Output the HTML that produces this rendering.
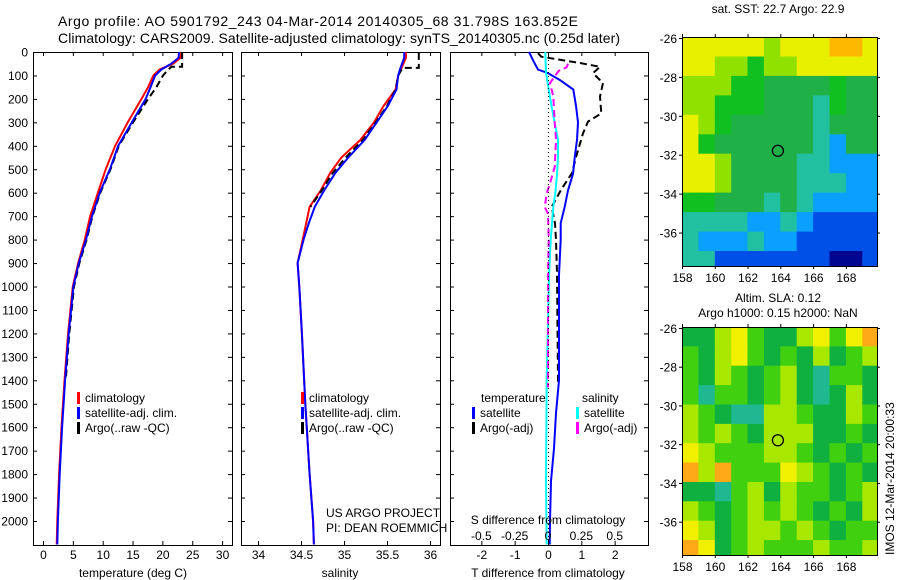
<!DOCTYPE html>
<html><head><meta charset="utf-8"><style>
body{margin:0;background:#fff;}
svg{display:block;font-family:"Liberation Sans",sans-serif;}
</style></head><body>
<svg id="fig" width="900" height="580" viewBox="0 0 900 580" xmlns="http://www.w3.org/2000/svg">
<rect width="900" height="580" fill="#fff"/>
<text x="58" y="26" font-size="14" textLength="520">Argo profile: AO 5901792_243 04-Mar-2014 20140305_68 31.798S 163.852E</text>
<text x="58" y="43" font-size="14" textLength="562">Climatology: CARS2009. Satellite-adjusted climatology: synTS_20140305.nc (0.25d later)</text>
<g id="g"></g>
</svg>
<script>
// ---- temperature profile data ----
const depT = [0,25,50,75,100,150,200,300,400,500,600,700,800,900,1000,1200,1400,1600,1800,2000,2100];
const climT = [23.2,23.0,21.8,19.5,18.5,17.6,16.5,14.2,12.1,10.5,9.2,7.9,7.0,5.9,5.0,4.2,3.6,3.1,2.7,2.4,2.3];
const satT = [22.8,22.7,21.5,19.8,18.8,18.0,17.2,14.9,12.6,11.2,9.5,8.2,7.2,6.0,5.1,4.3,3.7,3.2,2.8,2.5,2.4];
const depArgoT = [0,25,63,63,75,100,150,200,300,400,500,600,700,800,900,1000,1200,1400];
const argoT = [23.3,23.3,23.3,21.5,21.0,20.1,19.0,17.6,15.1,12.7,11.3,9.6,8.3,7.3,6.1,5.2,4.4,3.8];
// ---- salinity profile data ----
const depS = [0,25,75,100,160,230,300,375,450,515,590,660,730,800,900,1000,1200,1500,1800,2000,2100];
const climS = [35.72,35.72,35.66,35.63,35.60,35.46,35.35,35.19,34.97,34.84,34.73,34.60,34.56,34.52,34.46,34.48,34.51,34.55,34.60,34.64,34.65];
const satS = [35.70,35.70,35.65,35.63,35.61,35.51,35.38,35.24,35.05,34.90,34.77,34.66,34.59,34.53,34.46,34.48,34.51,34.55,34.60,34.64,34.65];
const depArgoS = [4,30,68,68,100,160,230,300,375,450,515,590,660];
const argoS = [35.87,35.87,35.87,35.68,35.63,35.60,35.50,35.37,35.22,35.02,34.87,34.74,34.61];
// ---- difference data ----
const depDT = [0,35,75,90,120,160,230,300,375,450,520,590,660,730,800,950,1400,1540,1690,1830,2000,2100];
const satDT = [-0.57,-0.45,-0.3,0,0.36,0.76,0.84,0.9,0.87,0.8,0.75,0.6,0.5,0.38,0.38,0.33,0.33,0.24,0.18,0.09,0.06,0.05];
const depArgoDT = [5,20,47,63,90,132,190,262,297,347,448,516,588,660,730,802,943,1400,1420];
const argoDT = [-0.3,-0.2,0.96,1.56,1.35,1.65,1.56,1.6,1.2,1.05,0.84,0.72,0.39,0.11,0.21,0.24,0.27,0.3,0.3];
const depDS = [0,90,234,303,375,448,516,588,660,802,943,1400,1830,2100];
const satDS = [-0.02,-0.015,0.028,0.05,0.075,0.075,0.068,0.058,0.04,0.02,0.008,-0.01,-0.015,-0.01];
const depArgoDS = [50,65,80,132,190,300,375,490,560,600,660,690,800,943,1430];
const argoDS = [0.15,0.14,0.08,0.015,0.04,0.05,0.06,0.05,0.015,-0.008,-0.025,0,0.005,0,0];
// ---- ticks ----
const depthTicks = [0,100,200,300,400,500,600,700,800,900,1000,1100,1200,1300,1400,1500,1600,1700,1800,1900,2000];
const tempTicks = [0,5,10,15,20,25,30];
const salTicks = [34,34.5,35,35.5,36];
const dtTicks = [-2,-1,0,1,2];
const dsTicks = [-0.5,-0.25,0,0.25,0.5];
const dsTickLabels = ["-0.5","-0.25","0","0.25","0.5"];
const latTicks = [-26,-28,-30,-32,-34,-36];
const lonTicks = [158,160,162,164,166,168];
// ---- maps (color class 0..8, rows from 26S southwards, cols from 158E, 1 deg cells) ----
const sstGrid = [
[7,7,7,7,7,6,7,7,7,8,8,7],
[7,7,6,6,5,6,6,7,7,7,7,7],
[6,6,6,5,5,4,4,4,4,5,4,4],
[6,6,5,5,5,4,4,4,3,5,4,4],
[7,6,5,4,4,4,4,4,3,4,4,4],
[7,5,4,4,4,4,4,4,3,2,4,4],
[7,7,6,4,4,4,4,3,3,2,2,2],
[7,7,6,4,4,4,4,3,3,3,2,2],
[5,5,4,4,4,3,4,3,2,2,2,2],
[3,3,3,3,2,2,3,2,1,1,1,1],
[3,2,2,2,3,2,2,1,1,1,1,1],
[3,3,1,1,1,1,1,1,1,0,0,1]];
const slaGrid = [
[4,4,6,7,5,4,4,6,7,5,7,8],
[5,4,6,7,5,4,5,4,6,4,5,6],
[5,4,6,5,4,5,6,4,3,5,5,4],
[5,3,5,5,4,5,6,4,3,4,6,4],
[6,5,4,3,3,6,6,5,4,4,6,5],
[6,5,6,5,4,6,6,6,4,4,5,4],
[7,6,5,5,5,6,6,5,4,5,4,5],
[8,6,8,5,5,5,7,6,5,4,5,4],
[4,4,3,5,6,4,6,5,5,4,5,6],
[6,5,4,5,6,5,6,5,4,5,4,6],
[7,6,4,5,6,6,5,6,5,4,5,5],
[8,7,4,5,6,5,5,5,6,5,5,6]];
const floatLon = 163.852, floatLat = -31.798;

const NS="http://www.w3.org/2000/svg";
const G=document.getElementById('g');
function el(tag,attrs,parent){const e=document.createElementNS(NS,tag);for(const k in attrs)e.setAttribute(k,attrs[k]);(parent||G).appendChild(e);return e;}
function txt(x,y,s,size,anchor,parent){const t=el('text',{x:x,y:y,'font-size':size,'text-anchor':anchor||'start'},parent);t.textContent=s;return t;}

const PT=52, PB=545;
const yD=d=>PT+d*0.2345;
const panels=[
 {name:'temperature-panel',x0:33,x1:232,v0:-1.675,v1:31.66},
 {name:'salinity-panel',x0:241,x1:440,v0:33.802,v1:36.116},
 {name:'difference-panel',x0:450,x1:648,v0:-2.94,v1:3.0}
];
function sx(p,v){return p.x0+(v-p.v0)/(p.v1-p.v0)*(p.x1-p.x0);}
function line(p,deps,vals,color,dash,name,scale){
  const s=scale||1;
  const pts=deps.map((d,i)=>sx(p,vals[i]*s).toFixed(1)+','+yD(d).toFixed(1)).join(' ');
  const a={points:pts,fill:'none',stroke:color,'stroke-width':2};
  if(dash)a['stroke-dasharray']=dash;
  const e=el('polyline',a,p.g);
  
  
}
panels.forEach(p=>{
  p.g=el('g',{});
  
  
  el('rect',{x:p.x0+0.5,y:PT+0.5,width:p.x1-p.x0,height:PB-PT,fill:'none',stroke:'#000','stroke-width':1},p.g);
  depthTicks.forEach(d=>{const y=yD(d)+0.5;
    el('line',{x1:p.x0,x2:p.x0+4,y1:y,y2:y,stroke:'#000'},p.g);
    el('line',{x1:p.x1-4,x2:p.x1,y1:y,y2:y,stroke:'#000'},p.g);});
});
const ylab=el('g',{});


depthTicks.forEach(d=>txt(28,yD(d)+4.5,String(d),12,'end',ylab));

function xticks(p,ticks,labels,ylabel,name){
  const g=el('g',{});
  
  
  ticks.forEach((v,i)=>{const x=sx(p,v)+0.5;
    el('line',{x1:x,x2:x,y1:PT,y2:PT+4,stroke:'#000'},g);
    el('line',{x1:x,x2:x,y1:PB-4,y2:PB,stroke:'#000'},g);
    txt(x,ylabel,labels[i],12,'middle',g);});
}
xticks(panels[0],tempTicks,tempTicks.map(String),559,'temperature-ticks');
xticks(panels[1],salTicks,salTicks.map(String),559,'salinity-ticks');
xticks(panels[2],dtTicks,dtTicks.map(String),559,'t-difference-ticks');
const dsg=el('g',{});


dsTicks.forEach((v,i)=>txt(sx(panels[2],v*4),540,dsTickLabels[i],12,'middle',dsg));
txt(133,577,'temperature (deg C)',12,'middle');
txt(340,577,'salinity',12,'middle');
txt(548,577,'T difference from climatology',12,'middle');
txt(548,524,'S difference from climatology',12,'middle');
txt(326,517,'US ARGO PROJECT',12);
txt(326,532,'PI: DEAN ROEMMICH',12);

el('line',{x1:548.5,x2:548.5,y1:PT,y2:PB,stroke:'#000','stroke-dasharray':'1,3'});

line(panels[0],depT,climT,'#f00',null,'temp-climatology-line');
line(panels[0],depArgoT,argoT,'#000','7,4','temp-argo-line');
line(panels[0],depT,satT,'#00f',null,'temp-satellite-line');
line(panels[1],depS,climS,'#f00',null,'sal-climatology-line');
line(panels[1],depArgoS,argoS,'#000','7,4','sal-argo-line');
line(panels[1],depS,satS,'#00f',null,'sal-satellite-line');
line(panels[2],depArgoDT,argoDT,'#000','7,4','tdiff-argo-line');
line(panels[2],depDT,satDT,'#00f',null,'tdiff-satellite-line');
line(panels[2],depDS,satDS,'#0ff',null,'sdiff-satellite-line',4);
line(panels[2],depArgoDS,argoDS,'#f0f','7,4','sdiff-argo-line',4);

function legend(x,y,items,name){
  const g=el('g',{});
  
  
  items.forEach((it,i)=>{const yy=y+i*15;
    if(it[1])el('rect',{x:x,y:yy-10,width:3,height:12,fill:it[1]},g);
    txt(x+(it[1]?8:0),yy,it[0],12,'start',g);});
}
legend(77,402,[['climatology','#f00'],['satellite-adj. clim.','#00f'],['Argo(..raw -QC)','#000']],'temperature-legend');
legend(301,402,[['climatology','#f00'],['satellite-adj. clim.','#00f'],['Argo(..raw -QC)','#000']],'salinity-legend');
legend(481,402,[['temperature',null]],'tdiff-legend-title');
legend(472,417,[['satellite','#00f'],['Argo(-adj)','#000']],'tdiff-legend');
legend(582,402,[['salinity',null]],'sdiff-legend-title');
legend(576,417,[['satellite','#0ff'],['Argo(-adj)','#f0f']],'sdiff-legend');

const cmap=['#00068f','#0050e8','#0aa0ff','#20c0a0','#20b048','#10c020','#90e000','#e8f000','#ffb800'];
const cmapSLA=['#00068f','#0050e8','#0aa0ff','#20b890','#10b040','#40d010','#a8e800','#f0f000','#ffa818'];
function map(y0,y1,grid,colors,name,titles){
  const x0=682,x1=877,lon0=158,lon1=169.9,lat0=-25.95,lat1=-37.72;
  const X=l=>x0+(l-lon0)/(lon1-lon0)*(x1-x0), Y=l=>y0+(l-lat0)/(lat1-lat0)*(y1-y0);
  const g=el('g',{});
  
  
  grid.forEach((row,r)=>row.forEach((v,c)=>{
    const la=lat0-r, lb=Math.max(lat0-r-1,lat1), lo=lon0+c, lo2=Math.min(lon0+c+1,lon1);
    const cell=el('rect',{x:X(lo).toFixed(1),y:Y(la).toFixed(1),width:(X(lo2)-X(lo)+0.6).toFixed(1),height:(Y(lb)-Y(la)+0.6).toFixed(1),fill:colors[v]},g);
    
    
  }));
  el('rect',{x:x0+0.5,y:y0+0.5,width:x1-x0,height:y1-y0,fill:'none',stroke:'#000'},g);
  latTicks.forEach(l=>{const y=Y(l)+0.5;
    el('line',{x1:x0-3,x2:x0,y1:y,y2:y,stroke:'#000'},g);
    el('line',{x1:x1,x2:x1+3,y1:y,y2:y,stroke:'#000'},g);
    txt(x0-5,y+4.5,String(l),12,'end',g);});
  lonTicks.forEach(l=>{const x=X(l)+0.5;
    el('line',{x1:x,x2:x,y1:y0-3,y2:y0,stroke:'#000'},g);
    el('line',{x1:x,x2:x,y1:y1,y2:y1+3,stroke:'#000'},g);
    txt(x,y1+16,String(l),12,'middle',g);});
  const c=el('circle',{cx:X(floatLon),cy:Y(floatLat),r:5.5,fill:'none',stroke:'#000','stroke-width':1.3},g);
  
  
  titles.forEach((t,i)=>txt(778,t[1],t[0],12,'middle',g));
}
map(37,266,sstGrid,cmap,'sst-map',[['sat. SST: 22.7  Argo: 22.9',13]]);
map(327,555,slaGrid,cmapSLA,'sla-map',[['Altim. SLA: 0.12',302],['Argo h1000: 0.15 h2000: NaN',317]]);
const im=txt(0,0,'IMOS 12-Mar-2014 20:00:33',12,'start');
im.setAttribute('transform','translate(894,555) rotate(-90)');


</script>
</body></html>
